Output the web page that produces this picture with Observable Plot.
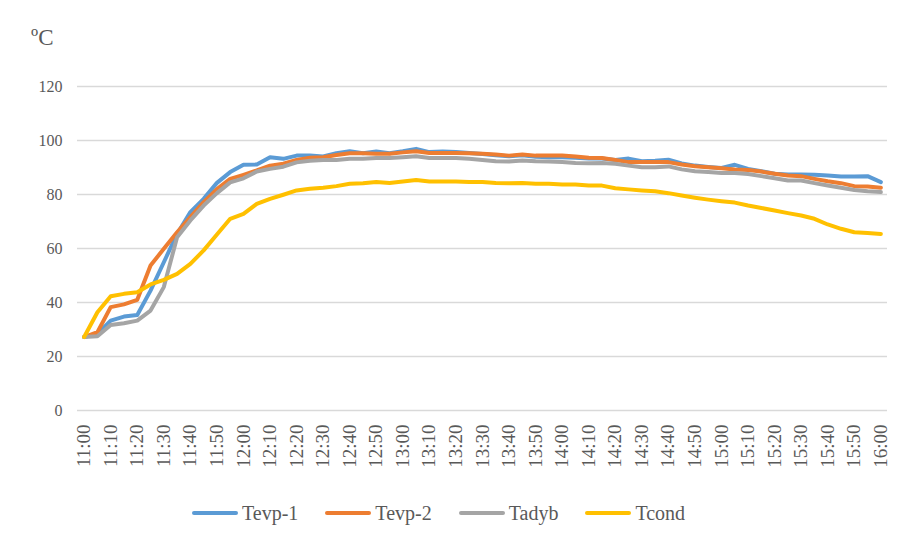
<!DOCTYPE html>
<html>
<head>
<meta charset="utf-8">
<script src="https://cdn.jsdelivr.net/npm/d3@7"></script>
<script src="https://cdn.jsdelivr.net/npm/@observablehq/plot@0.6"></script>
<style>
  body { margin: 0; background: #fff; }
  #wrap { position: relative; width: 902px; height: 543px; font-family: "Liberation Serif", "Times New Roman", "DejaVu Serif", serif; color: #595959; overflow: hidden; }
  #unit { position: absolute; left: 31px; top: 25px; font-size: 23px; color: #595959; }
  #legend { position: absolute; left: 192px; top: 498px; height: 30px; display: flex; align-items: center; font-size: 20px; color: #595959; }
  .item { display: flex; align-items: center; margin-right: 27px; }
  .sw { width: 46px; height: 4px; border-radius: 2px; margin-right: 4px; }
  svg { display: block; }
  svg text { font-family: "Liberation Serif", "Times New Roman", "DejaVu Serif", serif; }
</style>
</head>
<body>
<div id="wrap">
  <div id="chart"></div>
  <div id="unit">ºC</div>
  <div id="legend"></div>
</div>
<script>
const times = ["11:00","11:05","11:10","11:15","11:20","11:25","11:30","11:35","11:40","11:45",
  "11:50","11:55","12:00","12:05","12:10","12:15","12:20","12:25","12:30","12:35",
  "12:40","12:45","12:50","12:55","13:00","13:05","13:10","13:15","13:20","13:25",
  "13:30","13:35","13:40","13:45","13:50","13:55","14:00","14:05","14:10","14:15",
  "14:20","14:25","14:30","14:35","14:40","14:45","14:50","14:55","15:00","15:05",
  "15:10","15:15","15:20","15:25","15:30","15:35","15:40","15:45","15:50","15:55","16:00"];
const xTickLabels = ["11:00","11:10","11:20","11:30","11:40","11:50","12:00","12:10","12:20","12:30",
  "12:40","12:50","13:00","13:10","13:20","13:30","13:40","13:50","14:00","14:10",
  "14:20","14:30","14:40","14:50","15:00","15:10","15:20","15:30","15:40","15:50","16:00"];
const yTicks = [0, 20, 40, 60, 80, 100, 120];
const seriesNames = ["Tevp-1", "Tevp-2", "Tadyb", "Tcond"];
const seriesColors = ["#5B9BD5", "#ED7D31", "#A5A5A5", "#FFC000"];

const tevp1 = [27.2, 28.4, 33.3, 34.8, 35.4, 44.4, 54.9, 65.4, 73.5, 78.4, 84.3,
  88.3, 91, 91.1, 93.8, 93.2, 94.4, 94.4, 94.1, 95.3,
  96, 95.3, 95.9, 95.3, 96, 96.9, 95.7, 95.9, 95.7, 95.4,
  95, 94.5, 94.2, 94.5, 94, 93.8, 93.8, 93.6, 93.3, 93.3,
  92.8, 93.3, 92.3, 92.5, 92.9, 91.5, 90.7, 90.2, 89.8, 91,
  89.5, 88.6, 87.7, 87.4, 87.4, 87.3, 87, 86.7, 86.7, 86.8, 84.6];
const tevp2 = [27.2, 29.0, 38.3, 39.3, 41, 53.7, 59.9, 66, 71.6, 77.2, 82,
  85.8, 87.3, 88.9, 90.7, 91.4, 92.8, 93.6, 93.8, 94.6,
  95.3, 95.3, 95.1, 95.1, 95.6, 96, 95.4, 95.4, 95.4, 95.3,
  95.1, 94.8, 94.4, 94.8, 94.4, 94.4, 94.4, 94.1, 93.6, 93.5,
  92.8, 92, 92, 92, 92, 91.1, 90.5, 90.1, 89.7, 89.3,
  89.1, 88.5, 87.7, 87, 86.8, 85.8, 84.9, 84.2, 83.1, 83, 82.5];
const tadyb = [27.2, 27.5, 31.7, 32.3, 33.3, 37, 45.7, 64.2, 70.4, 75.9, 80.5,
  84.5, 86, 88.5, 89.5, 90.3, 91.9, 92.5, 92.8, 92.8,
  93.2, 93.2, 93.5, 93.5, 93.8, 94.2, 93.5, 93.5, 93.5, 93.2,
  92.8, 92.3, 92.2, 92.6, 92.3, 92.2, 92, 91.7, 91.6, 91.7,
  91.4, 90.7, 90.1, 90.1, 90.4, 89.3, 88.6, 88.3, 88, 88,
  87.6, 86.8, 86, 85.2, 85.2, 84.2, 83.3, 82.5, 81.7, 81.2, 80.9];
const tcond = [27.2, 36.4, 42.3, 43.2, 43.8, 46.7, 48.4, 50.6, 54.3, 59.3, 65.2,
  71, 72.8, 76.5, 78.4, 79.9, 81.5, 82.1, 82.5, 83.1,
  84, 84.2, 84.6, 84.3, 84.8, 85.4, 84.8, 84.8, 84.8, 84.6,
  84.6, 84.3, 84.2, 84.3, 84, 84, 83.7, 83.7, 83.3, 83.3,
  82.3, 81.9, 81.5, 81.2, 80.5, 79.6, 78.8, 78.1, 77.5, 77,
  75.9, 75, 74.1, 73.1, 72.2, 71, 68.9, 67.3, 66, 65.7, 65.4];

const seriesValues = [tevp1, tevp2, tadyb, tcond];
const rows = seriesValues.map((vals, s) => vals.map((v, i) => ({idx: i, time: times[i], value: v, series: seriesNames[s]})));
const tickIdx = xTickLabels.map(t => times.indexOf(t));

const chart = Plot.plot({
  width: 902,
  height: 495,
  marginLeft: 77,
  marginRight: 15,
  marginTop: 86,
  marginBottom: 85,
  style: { fontFamily: "'Liberation Serif', 'Times New Roman', 'DejaVu Serif', serif", color: "#595959", background: "#fff" },
  x: { type: "linear", domain: [-0.5, times.length - 0.5], axis: null },
  y: { domain: [0, 120], axis: null },
  marks: [
    Plot.gridY(yTicks, { stroke: "#d9d9d9", strokeOpacity: 1, strokeWidth: 1.3 }),
    Plot.axisY(yTicks, { tickSize: 0, tickPadding: 15, fontSize: 16, fill: "#595959", label: null }),
    Plot.axisX(tickIdx, { tickSize: 0, tickPadding: 14, tickRotate: -90, fontSize: 19, fill: "#595959", label: null,
      tickFormat: i => times[i] }),
    ...rows.map((d, s) => Plot.line(d, {
      x: "idx", y: "value", stroke: seriesColors[s], strokeWidth: 4,
      strokeLinejoin: "round", strokeLinecap: "round"
    }))
  ]
});
document.getElementById("chart").appendChild(chart);

const legend = document.getElementById("legend");
seriesNames.forEach((name, s) => {
  const item = document.createElement("div");
  item.className = "item";
  const sw = document.createElement("div");
  sw.className = "sw";
  sw.style.background = seriesColors[s];
  const label = document.createElement("span");
  label.textContent = name;
  item.appendChild(sw);
  item.appendChild(label);
  legend.appendChild(item);
});
</script>
</body>
</html>
